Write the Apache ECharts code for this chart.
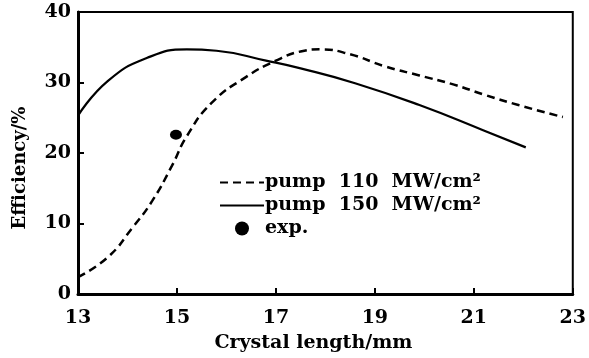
<!DOCTYPE html>
<html>
<head>
<meta charset="utf-8">
<script src="https://cdn.jsdelivr.net/npm/echarts@6/dist/echarts.min.js"></script>
<style>
  html, body { margin: 0; padding: 0; background: #fff; }
  #chart { width: 589px; height: 358px; }
</style>
</head>
<body>
<div id="chart"></div>
<script>
// crystal length (mm) / efficiency (%)
const pump110 = [
  [13, 2.4], [13.6, 5.2], [14.1, 9.4], [14.5, 13.2], [14.9, 18.2],
  [15.2, 22.4], [15.7, 27.1], [16.4, 30.8], [17.0, 33.1], [17.5, 34.4],
  [17.9, 34.7], [18.5, 34.0], [19.2, 32.3], [19.9, 31.0], [20.6, 29.7],
  [21.2, 28.3], [21.9, 26.8], [22.8, 25.1]
];
const pump150 = [
  [13, 25.3], [13.6, 30.2], [14.4, 33.5], [15.2, 34.7], [15.8, 34.5],
  [16.8, 33.1], [17.5, 32.0], [18.6, 29.9], [19.9, 26.8], [21.2, 23.2],
  [22.05, 20.8]
];
const expPoints = [[14.98, 22.6]];
const seriesNames = ["pump 110 MW/cm²", "pump 150 MW/cm²", "exp."];
const xTicks = [13, 23, 2];
const yTicks = [0, 40, 10];

const chart = echarts.init(document.getElementById("chart"));
const font = "DejaVu Serif";
const option = {
  animation: false,
  backgroundColor: "#fff",
  grid: {
    left: 78,
    right: 11,
    top: 12,
    bottom: 53,
    show: true,
    borderColor: "#000",
    borderWidth: 2
  },
  legend: {
    data: [
      { name: seriesNames[0], itemStyle: { opacity: 0 } },
      { name: seriesNames[1], itemStyle: { opacity: 0 } },
      { name: seriesNames[2] }
    ],
    orient: "vertical",
    left: 214,
    top: 168,
    itemWidth: 44,
    itemHeight: 14,
    itemGap: 4,
    formatter: (name) => name.replace(/ /g, "  "),
    textStyle: {
      fontFamily: font,
      fontWeight: "bold",
      fontSize: 19,
      color: "#000",
      padding: [0, 0, 0, -4]
    }
  },
  xAxis: {
    type: "value",
    min: xTicks[0],
    max: xTicks[1],
    interval: xTicks[2],
    name: "Crystal length/mm",
    nameLocation: "middle",
    nameGap: 40,
    nameTextStyle: {
      fontFamily: font,
      fontWeight: "bold",
      fontSize: 19,
      color: "#000",
      padding: [0, 24, 0, 0]
    },
    axisLine: { lineStyle: { color: "#000", width: 3 } },
    axisTick: { inside: true, length: 6, lineStyle: { color: "#000", width: 2 } },
    axisLabel: { fontFamily: font, fontWeight: "bold", fontSize: 19, color: "#000", margin: 15 },
    splitLine: { show: false }
  },
  yAxis: {
    type: "value",
    min: yTicks[0],
    max: yTicks[1],
    interval: yTicks[2],
    name: "Efficiency/%",
    nameLocation: "middle",
    nameGap: 49,
    nameTextStyle: {
      fontFamily: font,
      fontWeight: "bold",
      fontSize: 18,
      color: "#000",
      padding: [0, 30, 0, 0]
    },
    axisLine: { lineStyle: { color: "#000", width: 3 } },
    axisTick: { inside: true, length: 6, lineStyle: { color: "#000", width: 2 } },
    axisLabel: { fontFamily: font, fontWeight: "bold", fontSize: 19, color: "#000", margin: 7 },
    splitLine: { show: false }
  },
  series: [
    {
      name: seriesNames[0],
      type: "line",
      data: pump110,
      smooth: 0.5,
      symbol: "none",
      lineStyle: { color: "#000", width: 2.5, type: [8, 5] },
      itemStyle: { color: "#000" }
    },
    {
      name: seriesNames[1],
      type: "line",
      data: pump150,
      smooth: 0.5,
      symbol: "none",
      lineStyle: { color: "#000", width: 2.2 },
      itemStyle: { color: "#000" }
    },
    {
      name: seriesNames[2],
      type: "scatter",
      data: expPoints,
      symbol: "circle",
      symbolSize: [12, 10],
      itemStyle: { color: "#000", opacity: 1 }
    }
  ]
};
chart.setOption(option);
window.addEventListener("resize", () => chart.resize());
</script>
</body>
</html>
